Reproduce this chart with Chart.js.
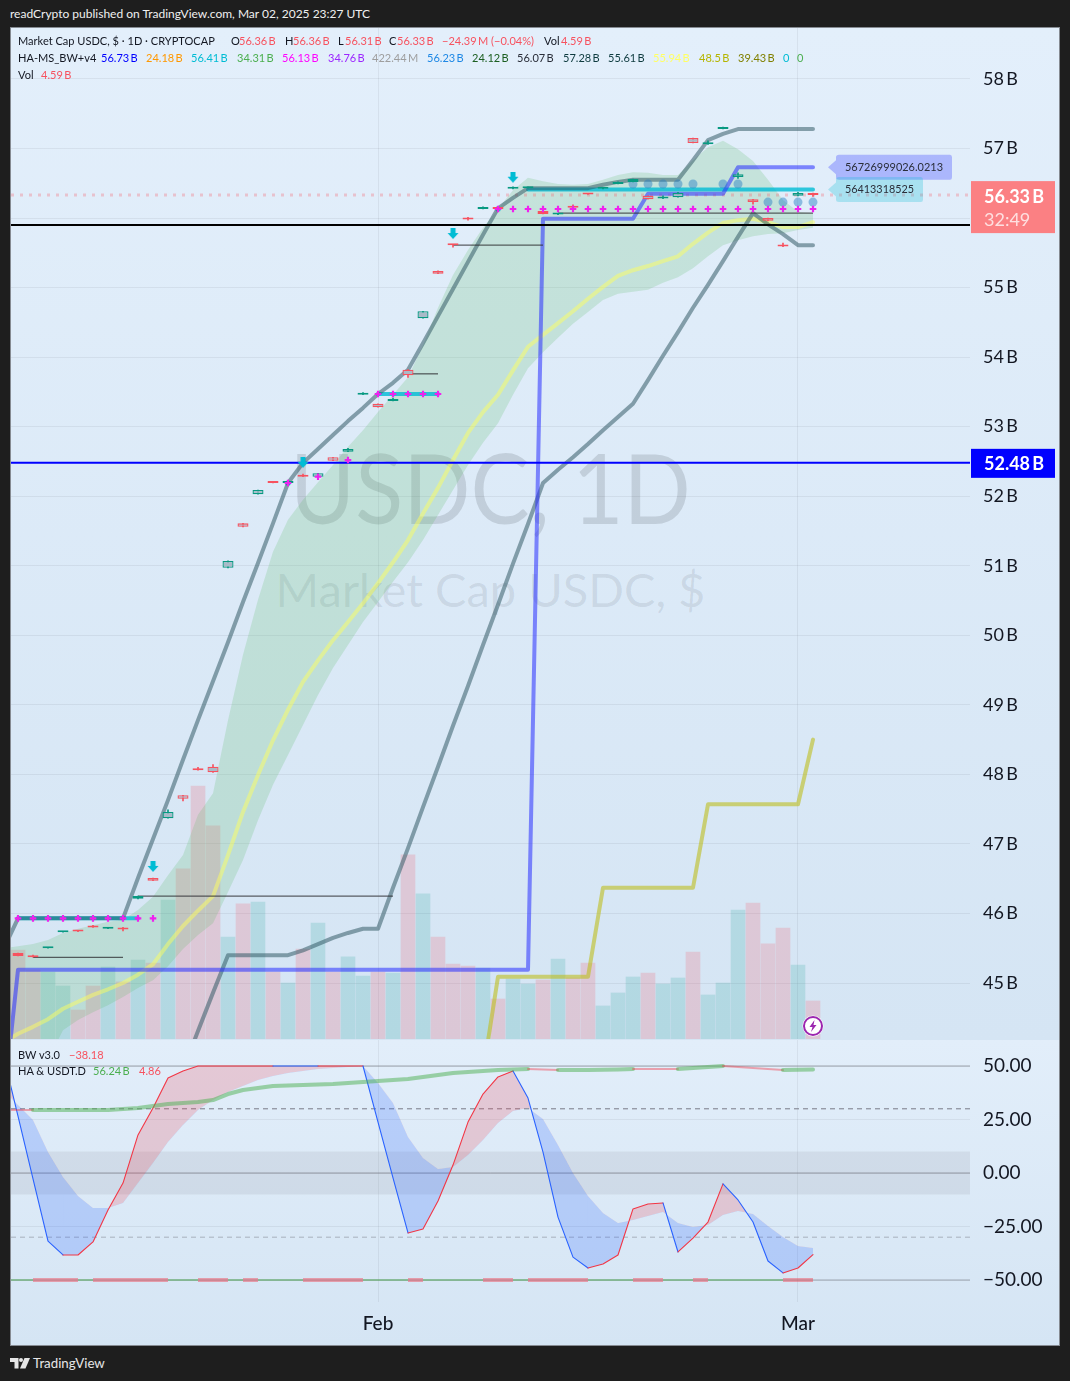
<!DOCTYPE html>
<html><head><meta charset="utf-8">
<script src="https://cdn.jsdelivr.net/npm/chart.js@4"></script>
<style>
html,body{margin:0;padding:0;background:#1e1e1e;width:1070px;height:1381px;overflow:hidden}
*{box-sizing:border-box}
body{font-family:Lato,"Noto Sans",sans-serif;position:relative}
.abs{position:absolute;white-space:nowrap}
#panel{left:10px;top:27px;width:1050px;height:1319px;border:1px solid #868b92;overflow:hidden}
#paneA{position:absolute;left:0;top:0;width:100%;height:1012px;background:linear-gradient(#e3effb,#d5e5f4)}
#paneB{position:absolute;left:0;top:1012px;width:100%;height:306px;background:linear-gradient(#e2eefa,#d5e5f4)}
canvas{position:absolute;left:0}
.lg{position:absolute;font-size:12px;line-height:16px;white-space:nowrap;color:#131722;transform:scaleX(.92);transform-origin:left center}
.wm{position:absolute;white-space:nowrap;text-align:center;left:11px;width:959px}
</style></head>
<body>
<div class="abs" style="left:10px;top:6px;color:#f0f0f0;font-size:12px;line-height:16px">readCrypto published on TradingView.com, Mar 02, 2025 23:27 UTC</div>
<div class="abs" id="panel"><div id="paneA"></div><div id="paneB"></div></div>
<div class="wm" style="top:430px;font-size:97px;line-height:114px;color:rgba(42,46,57,.15);transform:scaleX(.912)">USDC, 1D</div>
<div class="wm" style="top:560px;font-size:47px;line-height:58px;color:rgba(42,46,57,.1)">Market Cap USDC, $</div>
<canvas id="mainChart" width="1070" height="1011" style="top:28px;width:1070px;height:1011px"></canvas>
<canvas id="bwChart" width="1070" height="305" style="top:1040px;width:1070px;height:305px"></canvas>
<div id="legends"></div>
<svg class="abs" style="left:802px;top:1015px" width="22" height="22" viewBox="0 0 22 22"><circle cx="11" cy="11" r="10.5" fill="#fff"/><circle cx="11" cy="11" r="9" fill="#fff" stroke="#9c27b0" stroke-width="2"/><path d="M12.5 5 7.5 12h3l-1.5 5 5.5-7h-3z" fill="#9c27b0"/></svg>
<svg class="abs" style="left:10px;top:1358px" width="20" height="11" viewBox="0 0 20 11"><path d="M0 0h8.5v10.5H4.5V4H0z" fill="#e6e6e6"/><circle cx="11" cy="2" r="2" fill="#e6e6e6"/><path d="M14.5 0H20l-4.5 10.5H10z" fill="#e6e6e6"/></svg>
<div class="abs" style="left:33px;top:1355px;color:#e6e6e6;font-size:13.3px;line-height:17px">TradingView</div>
<script>
const _ = null;
const dayLabels = ['Jan 7','Jan 8','Jan 9','Jan 10','Jan 11','Jan 12','Jan 13','Jan 14','Jan 15','Jan 16','Jan 17','Jan 18','Jan 19','Jan 20','Jan 21','Jan 22','Jan 23','Jan 24','Jan 25','Jan 26','Jan 27','Jan 28','Jan 29','Jan 30','Jan 31','Feb 1','Feb 2','Feb 3','Feb 4','Feb 5','Feb 6','Feb 7','Feb 8','Feb 9','Feb 10','Feb 11','Feb 12','Feb 13','Feb 14','Feb 15','Feb 16','Feb 17','Feb 18','Feb 19','Feb 20','Feb 21','Feb 22','Feb 23','Feb 24','Feb 25','Feb 26','Feb 27','Feb 28','Mar 1','Mar 2'];
const monthTicks = ['Feb 1','Mar 1'];
const priceTicks = [45,46,47,48,49,50,51,52,53,54,55,56,57,58];
const bwTicks = [50,25,0,-25,-50];

const candleOpen  = [_,45.43,45.38,45.50,45.73,45.75,45.81,45.78,45.78,46.21,46.51,47.37,47.70,48.09,48.11,50.97,51.61,52.03,52.20,52.19,52.30,52.28,52.56,52.64,53.46,53.33,53.37,53.82,54.56,55.24,55.62,55.99,56.13,56.14,56.42,56.43,56.10,56.05,56.16,56.35,56.42,56.49,56.52,56.32,56.28,56.30,57.15,57.06,57.28,56.59,56.27,56.00,55.60,56.32,56.36];
const candleClose = [_,45.39,45.37,45.51,45.74,45.74,45.80,45.79,45.77,46.25,46.47,47.46,47.65,48.06,48.03,51.07,51.56,52.09,52.19,52.20,52.28,52.33,52.51,52.68,53.47,53.28,53.38,53.74,54.66,55.20,55.61,55.98,56.14,56.13,56.43,56.44,56.06,56.06,56.15,56.34,56.43,56.50,56.56,56.27,56.29,56.36,57.08,57.09,57.29,56.63,56.23,55.96,55.59,56.36,56.33];
const candleHigh  = [_,45.43,45.40,45.51,45.74,45.75,45.83,45.80,45.80,46.25,46.51,47.49,47.70,48.10,48.14,51.07,51.61,52.09,52.20,52.20,52.32,52.33,52.56,52.69,53.49,53.33,53.41,53.82,54.66,55.24,55.62,56.01,56.16,56.17,56.45,56.44,56.10,56.06,56.19,56.35,56.43,56.52,56.56,56.32,56.32,56.37,57.15,57.11,57.31,56.65,56.27,56.00,55.64,56.37,56.36];
const candleLow   = [_,45.39,45.37,45.50,45.73,45.74,45.80,45.78,45.75,46.21,46.47,47.37,47.62,48.06,48.03,50.97,51.56,52.03,52.19,52.19,52.28,52.28,52.51,52.64,53.46,53.28,53.37,53.71,54.56,55.20,55.58,55.97,56.13,56.10,56.42,56.43,56.06,56.05,56.12,56.34,56.42,56.49,56.52,56.27,56.28,56.30,57.08,57.06,57.28,56.57,56.20,55.96,55.59,56.32,56.31];
const volumeB = [_,10.75,8.34,8.09,6.40,3.50,6.40,8.70,6.89,9.54,9.18,16.79,20.54,30.56,25.73,12.32,16.31,16.55,8.09,6.76,10.87,14.01,8.09,9.91,7.61,8.09,7.97,22.23,17.52,12.32,9.06,8.82,8.58,4.83,7.25,6.64,7.13,9.66,7.37,9.18,3.99,5.56,7.49,7.97,6.64,7.37,10.51,5.32,6.76,15.58,16.43,11.48,13.41,8.94,4.59];

const greyUpper = [45.47,45.93,45.93,45.93,45.93,45.93,45.93,45.93,45.93,46.51,47.07,47.63,48.21,48.78,49.34,49.90,50.48,51.04,51.61,52.19,52.48,52.68,52.88,53.08,53.27,53.47,53.63,53.82,54.20,54.59,54.98,55.37,55.76,56.14,56.29,56.43,56.43,56.43,56.43,56.43,56.48,56.52,56.55,56.55,56.55,56.55,56.83,57.12,57.21,57.28,57.28,57.28,57.28,57.28,57.28];
const greyLower = [_,_,_,_,_,_,_,_,_,_,_,_,43.75,44.31,44.86,45.40,45.40,45.40,45.40,45.40,45.47,45.56,45.65,45.72,45.78,45.78,46.37,46.94,47.53,48.11,48.70,49.27,49.86,50.44,51.03,51.60,52.19,52.38,52.56,52.75,52.95,53.14,53.33,53.67,54.02,54.36,54.71,55.04,55.38,55.73,56.07,55.91,55.77,55.61,55.61];
const blueLine = [43.17,45.19,45.19,45.19,45.19,45.19,45.19,45.19,45.19,45.19,45.19,45.19,45.19,45.19,45.19,45.19,45.19,45.19,45.19,45.19,45.19,45.19,45.19,45.19,45.19,45.19,45.19,45.19,45.19,45.19,45.19,45.19,45.19,45.19,45.19,45.19,55.99,55.99,55.99,55.99,55.99,55.99,55.99,56.35,56.35,56.35,56.35,56.35,56.35,56.73,56.73,56.73,56.73,56.73,56.73];
const oliveLine = [_,_,_,_,_,_,_,_,_,_,_,_,_,_,_,_,_,_,_,_,_,_,_,_,_,_,_,_,_,_,_,_,43.71,45.09,45.09,45.09,45.09,45.09,45.09,45.09,46.37,46.37,46.37,46.37,46.37,46.37,46.37,47.57,47.57,47.57,47.57,47.57,47.57,47.57,48.5];
const maLine = [44.14,44.27,44.37,44.48,44.63,44.73,44.83,44.91,45.00,45.12,45.27,45.56,45.82,46.04,46.25,46.84,47.46,47.99,48.49,48.93,49.33,49.64,49.93,50.19,50.46,50.75,51.05,51.37,51.75,52.12,52.52,52.91,53.21,53.46,53.81,54.15,54.32,54.49,54.66,54.84,55.01,55.17,55.25,55.31,55.38,55.45,55.63,55.79,55.93,55.97,55.99,55.94,55.87,55.87,55.94];
const cloudUpper = [45.50,45.53,45.56,45.62,45.72,45.78,45.83,45.88,45.91,46.05,46.24,46.55,46.84,47.42,47.73,48.78,49.72,50.51,51.20,51.66,51.95,52.20,52.45,52.71,52.95,53.21,53.46,53.71,54.17,54.71,55.18,55.54,55.86,56.13,56.40,56.58,56.53,56.49,56.48,56.49,56.55,56.62,56.66,56.65,56.62,56.62,56.83,57.02,57.11,56.99,56.82,56.55,56.26,56.09,56.07];
const cloudLower = [43.17,43.32,43.60,43.89,44.32,44.47,44.58,44.68,44.80,44.93,45.04,45.24,45.49,45.69,45.86,46.31,46.77,47.34,47.85,48.28,48.71,49.14,49.53,49.86,50.19,50.48,50.77,51.05,51.37,51.73,52.09,52.45,52.77,53.05,53.46,53.84,54.07,54.28,54.48,54.65,54.82,54.91,54.94,54.97,55.07,55.15,55.28,55.45,55.61,55.68,55.74,55.77,55.78,55.83,55.86];
const pivotLine = [_,_,45.37,45.37,45.37,45.37,45.37,45.37,45.37,46.25,46.25,46.25,46.25,46.25,46.25,46.25,46.25,46.25,46.25,46.25,46.25,46.25,46.25,46.25,46.25,46.25,46.25,53.76,53.76,53.76,55.61,55.61,55.61,55.61,55.61,55.61,55.61,56.07,56.07,56.07,56.07,56.07,56.07,56.07,56.07,56.07,56.07,56.07,56.07,56.07,56.07,56.07,56.07,56.07,56.07];
const cyanLine = [_,45.93,45.93,45.93,45.93,45.93,45.93,45.93,45.93,45.93,_,_,_,_,_,_,_,_,_,52.19,_,_,_,_,_,53.47,53.47,53.47,53.47,53.47,_,_,_,56.13,_,56.41,56.41,56.41,56.41,56.41,56.41,56.41,56.41,56.41,56.41,56.41,56.41,56.41,56.41,56.41,56.41,56.41,56.41,56.41,56.41];
const plusMarks = [_,45.93,45.93,45.93,45.93,45.93,45.93,45.93,45.93,45.93,45.93,_,_,_,_,_,_,_,_,52.19,_,52.28,_,52.52,_,53.47,53.47,53.47,53.47,53.47,_,_,_,56.13,56.13,56.13,56.13,56.13,56.13,56.13,56.13,56.13,56.13,56.13,56.13,56.13,56.13,56.13,56.13,56.13,56.13,56.13,56.13,56.13,56.13];
const circleMarks = [_,_,_,_,_,_,_,_,_,_,_,_,_,_,_,_,_,_,_,_,_,_,_,_,_,_,_,_,_,_,_,_,_,_,_,_,_,_,_,_,_,_,56.49,56.49,56.49,56.49,56.49,_,56.49,56.49,_,56.23,56.23,56.23,56.23];
const arrowMarks = [_,_,_,_,_,_,_,_,_,_,46.67,_,_,_,_,_,_,_,_,_,52.48,_,_,_,_,_,_,_,_,_,55.77,_,_,_,56.58,_,_,_,_,_,_,_,_,_,_,_,_,_,_,_,_,_,_,_,_];
const blackLevel = 55.90, blueLevel = 52.48, lastPrice = 56.33;
const blueTag = 56.73, cyanTag = 56.41;

const bwLine = [55.6,26.6,-2.8,-31.8,-38.3,-38.3,-32.2,-17.3,-4.7,17.8,30.4,44.4,47.7,50,50,50,50,50,50,50,50,50,50,50,50,23.8,-2.3,-28.0,-26.2,-13.1,3.7,23.8,36.9,44.9,47.7,35.0,9.8,-20.6,-39.3,-44.4,-42.5,-38.3,-16.8,-14.5,-14.0,-36.9,-30.4,-22.9,-5.1,-12.6,-22.9,-41.1,-46.7,-44.4,-38.18];
const bwSignal = [38.8,31.8,24.8,9.8,-1.9,-10.7,-16.4,-16.4,-14.0,-4.7,4.7,14.5,22.4,29.4,34.1,37.9,40.7,43.5,45.3,46.7,47.7,48.6,49.1,49.5,50,42.1,32.7,16.8,7.0,1.9,2.8,8.4,15.4,23.4,29.0,30.4,25.2,13.1,0,-10.7,-18.7,-23.4,-22.0,-20.1,-18.2,-23.4,-25.2,-24.3,-19.6,-17.8,-19.2,-24.8,-29.9,-34.1,-35.0];
const bwRising = [0,0,0,0,0,1,1,1,1,1,1,1,1,1,1,1,1,1,1,0,0,0,1,1,1,0,0,0,1,1,1,1,1,1,1,0,0,0,0,0,1,1,1,1,1,0,1,1,1,0,0,0,0,1,1];
const haLine = [29.4,29.4,29.4,29.4,29.4,29.4,29.4,29.4,29.9,30.4,31.3,32.2,32.7,33.2,34.1,36.9,38.8,39.7,40.7,40.9,41.1,41.4,41.6,42.1,42.5,43.0,43.5,43.9,44.9,45.8,46.7,47.2,47.7,48.1,48.4,48.6,48.4,48.1,48.1,48.1,48.3,48.4,48.6,48.6,48.6,48.6,49.1,49.5,50.0,49.5,49.1,48.6,48.1,48.3,48.4];
const haState = [0,0,0,1,1,1,1,1,1,1,1,1,1,1,1,1,1,1,1,1,1,1,1,1,1,1,1,1,1,1,1,1,1,1,1,1,0,0,1,1,1,1,1,0,0,0,1,1,1,0,0,0,0,1,1];
const stripLine = [-50,-50,-50,-50,-50,-50,-50,-50,-50,-50,-50,-50,-50,-50,-50,-50,-50,-50,-50,-50,-50,-50,-50,-50,-50,-50,-50,-50,-50,-50,-50,-50,-50,-50,-50,-50,-50,-50,-50,-50,-50,-50,-50,-50,-50,-50,-50,-50,-50,-50,-50,-50,-50,-50,-50];
const stripState = [0,0,0,1,1,1,0,1,1,1,1,1,0,0,1,1,0,1,0,0,0,1,1,1,1,0,0,0,1,0,0,0,0,1,1,0,1,1,1,1,0,0,0,1,1,0,0,1,0,0,0,0,0,1,1];
const bwLevels = {top:50, dashHi:30, mid:0, dashLo:-30, bottom:-50, bandHi:10, bandLo:-10};

const FONT = 'Lato,"Noto Sans",sans-serif';
const RED='#f7525f', TEAL='#089981';
const xMin=0.533, xMax=64.467;
const pts = arr => arr.map((y,x)=>({x,y}));
const level = v => [{x:xMin,y:v},{x:xMax,y:v}];
const isUp = k => candleClose[k] >= candleOpen[k];
const noPad = s => { s.paddingTop=0; s.paddingBottom=0; s.paddingLeft=0; s.paddingRight=0; };

/* legend rows */
const B='\u2009B';
const rows=[
 [41,[[18,'Market Cap USDC, $ · 1D · CRYPTOCAP','#131722'],[231,'O','#131722'],[239,'56.36'+B,RED],[285,'H','#131722'],[293,'56.36'+B,RED],[338,'L','#131722'],[345,'56.31'+B,RED],[389,'C','#131722'],[397,'56.33'+B,RED],[442,'−24.39'+'\u2009M (−0.04%)',RED],[544,'Vol','#131722'],[561,'4.59'+B,RED]]],
 [58,[[18,'HA-MS_BW+v4','#131722'],[101,'56.73'+B,'#0000ff'],[146,'24.18'+B,'#ff9800'],[191,'56.41'+B,'#00bcd4'],[237,'34.31'+B,'#4caf50'],[282,'56.13'+B,'#ff00ff'],[328,'34.76'+B,'#9c27ff'],[372,'422.44\u2009M','#9e9e9e'],[427,'56.23'+B,'#1e88e5'],[472,'24.12'+B,'#1b5e20'],[517,'56.07'+B,'#2a2e39'],[563,'57.28'+B,'#0e3b3f'],[608,'55.61'+B,'#0e3b3f'],[653,'55.94'+B,'#ffff66'],[699,'48.5'+B,'#b5b500'],[738,'39.43'+B,'#808000'],[783,'0','#00bcd4'],[797,'0','#4caf50']]],
 [75,[[18,'Vol','#131722'],[41,'4.59'+B,RED]]],
 [1055,[[18,'BW v3.0','#131722'],[69,'−38.18',RED]]],
 [1071,[[18,'HA & USDT.D','#131722'],[93,'56.24'+B,'#4caf50'],[139,'4.86',RED]]]
];
const lgRoot=document.getElementById('legends');
rows.forEach(([y,items])=>items.forEach(([x,t,c])=>{const s=document.createElement('span');s.className='lg';s.textContent=t;s.style.left=x+'px';s.style.top=(y-8)+'px';s.style.color=c;lgRoot.appendChild(s);}));

/* down-arrow marker */
const arrowImg=document.createElement('canvas');arrowImg.width=12;arrowImg.height=12;
(()=>{const c=arrowImg.getContext('2d');c.fillStyle='#00bcd4';c.beginPath();c.moveTo(3.5,0);c.lineTo(8.5,0);c.lineTo(8.5,5);c.lineTo(11.5,5);c.lineTo(6,11);c.lineTo(0.5,5);c.lineTo(3.5,5);c.closePath();c.fill();})();

const priceLabels={id:'priceLabels',afterDraw(chart){
  const c=chart.ctx,y=chart.scales.y;
  const tag=(v,w,fill,txt,tw)=>{const py=y.getPixelForValue(v);c.save();c.fillStyle=fill;c.beginPath();c.moveTo(828,py);c.lineTo(836,py-7);c.lineTo(836,py-10);c.quadraticCurveTo(836,py-12.5,839,py-12.5);c.lineTo(836+w-2,py-12.5);c.quadraticCurveTo(836+w,py-12.5,836+w,py-10);c.lineTo(836+w,py+10);c.quadraticCurveTo(836+w,py+12.5,836+w-2,py+12.5);c.lineTo(839,py+12.5);c.quadraticCurveTo(836,py+12.5,836,py+10);c.lineTo(836,py+7);c.closePath();c.fill();c.fillStyle='#2a2e39';c.font='12px '+FONT;c.textAlign='left';c.textBaseline='middle';c.fillText(txt,845,py,tw);c.restore();};
  tag(blueTag,116,'rgba(98,108,255,.42)','56726999026.0213',98);
  tag(cyanTag,87,'rgba(0,188,212,.25)','56413318525',69);
  c.save();
  const py=y.getPixelForValue(lastPrice);
  c.fillStyle='#fb8083';c.fillRect(971,py-14,84,52);
  c.textAlign='left';c.textBaseline='middle';c.fillStyle='#ffffff';c.font='bold 18px '+FONT;c.fillText('56.33\u2009B',984,py+2);
  c.fillStyle='rgba(255,255,255,.75)';c.font='18px '+FONT;c.fillText('32:49',984,py+25);
  const pb=y.getPixelForValue(blueLevel);
  c.fillStyle='#0000ff';c.fillRect(971,pb-14,84,29);
  c.fillStyle='#ffffff';c.font='bold 18px '+FONT;c.fillText('52.48\u2009B',984,pb+1);
  c.restore();
}};

const xScale=(extra)=>Object.assign({type:'linear',min:xMin,max:xMax,offset:false,
  afterBuildTicks(s){s.ticks=monthTicks.map(m=>({value:dayLabels.indexOf(m)}));},
  grid:{offset:false,color:'rgba(42,46,57,.07)',drawTicks:false},border:{display:false}},extra);

const line=(data,color,width,order,more)=>Object.assign({type:'line',data:(data[0]&&data[0].x!==undefined)?data:pts(data),borderColor:color,borderWidth:width,pointRadius:0,tension:0,order,yAxisID:'y',borderJoinStyle:'round',borderCapStyle:'round',fill:false},more||{});

new Chart(document.getElementById('mainChart'),{
 type:'bar',
 data:{datasets:[
  {type:'bar',data:pts(volumeB),yAxisID:'vol',barThickness:14,grouped:false,order:30,backgroundColor:c=>isUp(c.dataIndex)?'rgba(0,150,136,.16)':'rgba(247,82,95,.2)',borderWidth:0},
  line(cloudUpper,'transparent',0,25,{fill:{target:'+1'},backgroundColor:'rgba(86,183,96,.2)'}),
  line(cloudLower,'transparent',0,26),
  line(level(lastPrice),'rgba(247,82,95,.28)',3,24,{borderDash:[3,6],borderCapStyle:'butt'}),
  line(maLine,'rgba(255,255,90,.48)',4,20),
  line(oliveLine,'rgba(190,190,30,.6)',4,19),
  line(greyLower,'rgba(45,85,95,.52)',4,18),
  line(greyUpper,'rgba(45,85,95,.52)',4,16),
  line(blueLine,'rgba(40,45,255,.55)',4,15),
  line(cyanLine,'rgba(0,188,212,.8)',4,17,{pointRadius:c=>{const k=c.dataIndex;return cyanLine[k]!==null&&cyanLine[k-1]===null&&cyanLine[k+1]===null?3:0;},pointBackgroundColor:'rgba(0,188,212,.8)',pointBorderWidth:0,pointStyle:'rectRounded'}),
  line(pivotLine,'rgba(45,45,50,.75)',1.3,14,{borderCapStyle:'butt',segment:{borderColor:c=>c.p0.parsed.y!==c.p1.parsed.y?'transparent':undefined}}),
  line(circleMarks,'transparent',0,13,{showLine:false,pointRadius:4.5,pointBackgroundColor:'rgba(33,125,195,.45)',pointBorderWidth:0}),
  line(level(blackLevel),'#000000',2,12,{borderCapStyle:'butt'}),
  line(level(blueLevel),'#0000ff',2,11,{borderCapStyle:'butt'}),
  {type:'bar',data:candleHigh.map((h,x)=>({x,y:h===null?null:[candleLow[x],h]})),yAxisID:'y',barThickness:1,grouped:false,order:8,backgroundColor:c=>isUp(c.dataIndex)?TEAL:RED,borderWidth:0,minBarLength:1},
  {type:'bar',data:candleOpen.map((o,x)=>({x,y:o===null?null:[o,candleClose[x]]})),yAxisID:'y',barThickness:11,grouped:false,order:7,minBarLength:2,backgroundColor:'#a9bac8',borderColor:c=>isUp(c.dataIndex)?TEAL:RED,borderWidth:1.3,borderSkipped:false,inflateAmount:0},
  line(plusMarks,'transparent',0,5,{showLine:false,pointStyle:'cross',pointRadius:3.3,pointBorderColor:'#ee22ee',pointBorderWidth:2.2}),
  line(arrowMarks,'transparent',0,4,{showLine:false,pointStyle:arrowImg,pointRadius:6})
 ]},
 plugins:[priceLabels],
 options:{responsive:false,animation:false,devicePixelRatio:1,events:[],
  layout:{autoPadding:false,padding:{left:11,right:0,top:0,bottom:0}},
  plugins:{legend:{display:false},tooltip:{enabled:false}},
  scales:{
   x:xScale({ticks:{display:false},afterFit(s){s.height=0;noPad(s);}}),
   y:{type:'linear',position:'right',min:44.195,max:58.733,
      afterBuildTicks(s){s.ticks=priceTicks.map(value=>({value}));},
      afterFit(s){s.width=100;noPad(s);},
      grid:{color:'rgba(42,46,57,.07)',drawTicks:false},border:{display:false},
      ticks:{padding:13,color:'#131722',font:{family:FONT,size:18},callback:v=>v+'\u2009B'}},
   vol:{type:'linear',display:false,position:'right',min:0,max:122.1}
  }}
});

new Chart(document.getElementById('bwChart'),{
 type:'line',
 data:{datasets:[
  line(level(bwLevels.bandHi),'transparent',0,30,{fill:{target:'+1'},backgroundColor:'rgba(120,123,134,.13)'}),
  line(level(bwLevels.bandLo),'transparent',0,31),
  line(level(bwLevels.top),'rgba(120,123,134,.65)',1,28,{borderCapStyle:'butt'}),
  line(level(bwLevels.mid),'rgba(120,123,134,.7)',1,28,{borderCapStyle:'butt'}),
  line(level(bwLevels.bottom),'rgba(120,123,134,.6)',1,28,{borderCapStyle:'butt'}),
  line(level(bwLevels.dashHi),'#787b86',1,27,{borderDash:[5,4],borderCapStyle:'butt'}),
  line(level(bwLevels.dashLo),'rgba(120,123,134,.5)',1,27,{borderDash:[5,4],borderCapStyle:'butt'}),
  line(bwSignal,'transparent',0,26),
  line(bwLine,'#2962ff',1.1,20,{fill:{target:7,above:'rgba(242,54,69,.2)',below:'rgba(41,98,255,.22)'},segment:{borderColor:c=>bwRising[c.p1DataIndex]?'#f23645':'#2962ff'}}),
  line(haLine,'rgba(76,175,80,.5)',4,18,{segment:{borderColor:c=>haState[c.p1DataIndex]?'rgba(76,175,80,.5)':'rgba(242,54,69,.42)',borderWidth:c=>haState[c.p1DataIndex]?4:2}}),
  line(stripLine,'rgba(76,175,80,.6)',1.5,17,{borderCapStyle:'butt',segment:{borderColor:c=>stripState[c.p1DataIndex]?'rgba(242,54,69,.42)':'rgba(76,175,80,.6)',borderWidth:c=>stripState[c.p1DataIndex]?4:1.5}})
 ]},
 options:{responsive:false,animation:false,devicePixelRatio:1,events:[],
  layout:{autoPadding:false,padding:{left:11,right:0,top:0,bottom:0}},
  plugins:{legend:{display:false},tooltip:{enabled:false}},
  scales:{
   x:xScale({ticks:{padding:10,autoSkip:false,maxRotation:0,color:'#131722',font:{family:FONT,size:19,weight:'500'},callback:v=>dayLabels[v].split(' ')[0]},afterFit(s){s.height=43;noPad(s);}}),
   y:{type:'linear',position:'right',min:-60.28,max:62.15,
      afterBuildTicks(s){s.ticks=bwTicks.map(value=>({value}));},
      afterFit(s){s.width=100;noPad(s);},
      grid:{color:'rgba(42,46,57,.07)',drawTicks:false},border:{display:false},
      ticks:{padding:13,color:'#131722',font:{family:FONT,size:19},callback:v=>v.toFixed(2).replace('-','−')}}
  }}
});
</script>
</body></html>
